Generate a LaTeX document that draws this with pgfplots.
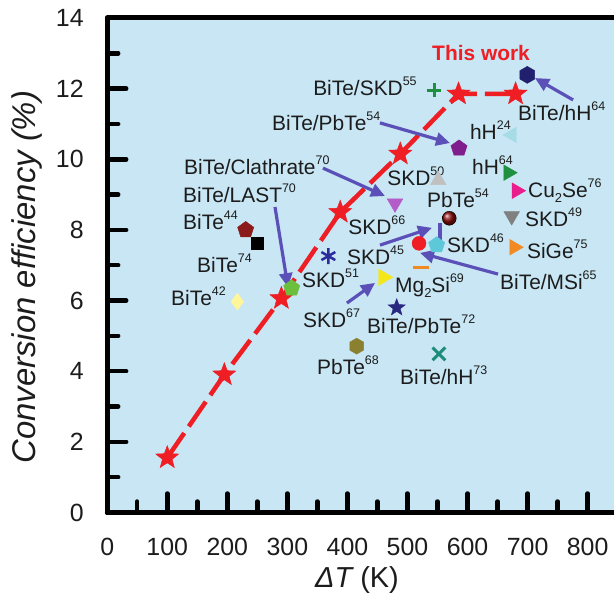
\documentclass[border=0pt]{standalone}
\usepackage{fontspec}
\setmainfont{Liberation Sans}
\usepackage{pgfplots}
\pgfplotsset{compat=1.18}
\usetikzlibrary{arrows.meta}

\definecolor{bgblue}{RGB}{200,230,243}
\definecolor{twred}{RGB}{238,30,36}
\definecolor{arrowc}{RGB}{90,80,184}
\definecolor{navyc}{RGB}{32,32,110}
\definecolor{purpc}{RGB}{128,30,142}
\definecolor{lcyan}{RGB}{166,220,230}
\definecolor{dgreen}{RGB}{30,144,64}
\definecolor{magc}{RGB}{233,30,140}
\definecolor{grayc}{RGB}{128,128,128}
\definecolor{orangec}{RGB}{242,138,36}
\definecolor{lgray}{RGB}{192,192,192}
\definecolor{dred}{RGB}{140,12,12}
\definecolor{orchid}{RGB}{180,92,200}
\definecolor{cyanc}{RGB}{92,200,216}
\definecolor{yellowc}{RGB}{245,230,26}
\definecolor{navystar}{RGB}{40,40,128}
\definecolor{olivec}{RGB}{139,128,48}
\definecolor{tealc}{RGB}{30,140,122}
\definecolor{astc}{RGB}{43,43,154}
\definecolor{limec}{RGB}{108,191,60}
\definecolor{dredpent}{RGB}{139,26,26}
\definecolor{lyellow}{RGB}{255,245,154}
\definecolor{txt}{RGB}{28,28,28}

\pgfdeclareplotmark{fstar}{%
  \pgfpathmoveto{\pgfpointpolar{90}{\pgfplotmarksize}}%
  \pgfpathlineto{\pgfpointpolar{126}{0.42\pgfplotmarksize}}%
  \pgfpathlineto{\pgfpointpolar{162}{\pgfplotmarksize}}%
  \pgfpathlineto{\pgfpointpolar{198}{0.42\pgfplotmarksize}}%
  \pgfpathlineto{\pgfpointpolar{234}{\pgfplotmarksize}}%
  \pgfpathlineto{\pgfpointpolar{270}{0.42\pgfplotmarksize}}%
  \pgfpathlineto{\pgfpointpolar{306}{\pgfplotmarksize}}%
  \pgfpathlineto{\pgfpointpolar{342}{0.42\pgfplotmarksize}}%
  \pgfpathlineto{\pgfpointpolar{18}{\pgfplotmarksize}}%
  \pgfpathlineto{\pgfpointpolar{54}{0.42\pgfplotmarksize}}%
  \pgfpathclose
  \pgfusepathqfillstroke
}
\pgfdeclareplotmark{hexa*}{%
  \pgfpathmoveto{\pgfpointpolar{90}{\pgfplotmarksize}}%
  \pgfpathlineto{\pgfpointpolar{150}{\pgfplotmarksize}}%
  \pgfpathlineto{\pgfpointpolar{210}{\pgfplotmarksize}}%
  \pgfpathlineto{\pgfpointpolar{270}{\pgfplotmarksize}}%
  \pgfpathlineto{\pgfpointpolar{330}{\pgfplotmarksize}}%
  \pgfpathlineto{\pgfpointpolar{30}{\pgfplotmarksize}}%
  \pgfpathclose
  \pgfusepathqfillstroke
}

\newcommand{\su}[1]{\raisebox{10bp}{\fontsize{12.5}{12.5}\selectfont #1}}
\newcommand{\sub}[1]{\raisebox{-4.5bp}{\fontsize{13}{13}\selectfont #1}}

\begin{document}
\begin{tikzpicture}[
  lbl/.style={anchor=base west, inner sep=0pt, yshift=-7.5bp, font=\fontsize{21}{21}\selectfont, text=txt},
  arr/.style={draw=arrowc, line width=3.2bp, -{Triangle[length=14bp,width=13bp]}}
]
\begin{axis}[
  scale only axis, width=510.5bp, height=494.5bp,
  xmin=0, xmax=850, ymin=0, ymax=14,
  xtick={0,100,...,800}, ytick={0,2,...,14},
  minor x tick num=1, minor y tick num=1,
  tick align=inside, xtick pos=left, ytick pos=left,
  major tick length=19bp, minor tick length=11bp,
  tick style={line width=4.5bp, black, line cap=round},
  axis line style={line width=5bp, line join=round},
  axis background/.style={fill=bgblue},
  /pgf/number format/assume math mode=true,
  ticklabel style={font=\fontsize{25}{25}\selectfont, text=txt},
  xticklabel style={yshift=-22bp},
  yticklabel style={xshift=-20bp},
  xlabel={{\itshape ΔT} (K)},
  ylabel={\itshape Conversion efficiency (\%)},
  xlabel style={at={(axis description cs:0.4894,-0.1365)}, anchor=center, font=\fontsize{29}{29}\selectfont, text=txt},
  ylabel style={at={(axis description cs:-0.158,0.476)}, anchor=center, font=\fontsize{33}{33}\selectfont, text=txt},
  clip=false,
]
% This work
\addplot[twred, line width=4.5bp, dash pattern=on 30bp off 8bp, mark=fstar, mark size=12bp,
  mark options={solid, fill=twred, draw=twred, line width=0.5bp}]
  coordinates {(100,1.55) (195,3.9) (290,6.06) (388,8.5) (488,10.15) (585,11.85) (680,11.85)};

% arrows
\draw[arr] (axis cs:775.7,11.68) -- (axis cs:712.3,12.30);
\draw[arr] (axis cs:454.2,11.03) -- (axis cs:570.8,10.46);
\draw[arr] (axis cs:359.3,9.75) -- (axis cs:462.5,8.96);
\draw[arr] (axis cs:279.4,8.65) -- (axis cs:301.0,6.38);
\draw[arr] (axis cs:454.2,7.57) -- (axis cs:540.8,8.06);
\draw[draw=arrowc, line width=3.2bp] (axis cs:554.1,8.20) -- (axis cs:554.1,7.72);
\draw[arr] (axis cs:650.7,6.75) -- (axis cs:520.8,7.35);
\draw[arr] (axis cs:399.2,5.93) -- (axis cs:445.9,6.50);

% literature points
\addplot[only marks, mark=+, mark size=7bp, mark options={line width=3bp, draw=dgreen}] coordinates {(544.6,11.96)};
\addplot[only marks, mark=hexa*, mark size=8.5bp, mark options={fill=navyc, draw=navyc}] coordinates {(699.5,12.39)};
\addplot[only marks, mark=pentagon*, mark size=8.5bp, mark options={fill=purpc, draw=purpc}] coordinates {(585.8,10.31)};
\addplot[only marks, mark=triangle*, mark size=9bp, mark options={rotate=90, fill=lcyan, draw=lcyan}] coordinates {(674,10.69)};
\addplot[only marks, mark=triangle*, mark size=9bp, mark options={rotate=-90, fill=dgreen, draw=dgreen}] coordinates {(667.8,9.62)};
\addplot[only marks, mark=triangle*, mark size=9bp, mark options={rotate=-90, fill=magc, draw=magc}] coordinates {(681.8,9.11)};
\addplot[only marks, mark=triangle*, mark size=9bp, mark options={rotate=180, fill=grayc, draw=grayc}] coordinates {(673.5,8.39)};
\addplot[only marks, mark=triangle*, mark size=9bp, mark options={rotate=-90, fill=orangec, draw=orangec}] coordinates {(677.9,7.51)};
\addplot[only marks, mark=triangle*, mark size=9bp, mark options={fill=lgray, draw=lgray}] coordinates {(551.3,9.41)};
\addplot[only marks, mark=ball, mark size=7bp, mark options={ball color=dred}] coordinates {(569.6,8.33)};
\addplot[only marks, mark=triangle*, mark size=9bp, mark options={rotate=180, fill=orchid, draw=orchid}] coordinates {(479.2,8.75)};
\addplot[only marks, mark=pentagon*, mark size=8.5bp, mark options={fill=cyanc, draw=cyanc}] coordinates {(548.6,7.57)};
\addplot[only marks, mark=*, mark size=7bp, mark options={fill=twred, draw=twred}] coordinates {(519.2,7.62)};
\addplot[only marks, mark=-, mark size=8bp, mark options={line width=3.5bp, draw=orangec}] coordinates {(522,6.94)};
\addplot[only marks, mark=triangle*, mark size=9.5bp, mark options={rotate=-90, fill=yellowc, draw=yellowc}] coordinates {(459.7,6.66)};
\addplot[only marks, mark=fstar, mark size=9bp, mark options={fill=navystar, draw=navystar}] coordinates {(482,5.80)};
\addplot[only marks, mark=hexa*, mark size=8bp, mark options={fill=olivec, draw=olivec}] coordinates {(415.4,4.71)};
\addplot[only marks, mark=x, mark size=9bp, mark options={line width=3bp, draw=tealc}] coordinates {(552.4,4.49)};
\addplot[only marks, mark=asterisk, mark size=8bp, mark options={line width=2.5bp, draw=astc}] coordinates {(368.2,7.26)};
\addplot[only marks, mark=pentagon*, mark size=8.5bp, mark options={fill=limec, draw=limec}] coordinates {(307.2,6.35)};
\addplot[only marks, mark=pentagon*, mark size=8.5bp, mark options={fill=dredpent, draw=dredpent}] coordinates {(230.6,8.0)};
\addplot[only marks, mark=square*, mark size=6bp, mark options={fill=black, draw=black}] coordinates {(250,7.62)};
\addplot[only marks, mark=diamond*, mark size=8.5bp, mark options={fill=lyellow, draw=lyellow}] coordinates {(216.7,5.97)};

% labels
\node[anchor=base, inner sep=0pt, yshift=-7.5bp, font=\fontsize{21}{21}\selectfont\bfseries, text=twred] at (axis cs:622.5,13.01) {This work};
\node[lbl] at (axis cs:342.8,12.02) {BiTe/SKD\su{55}};
\node[lbl] at (axis cs:274.4,11.03) {BiTe/PbTe\su{54}};
\node[lbl] at (axis cs:683.9,11.31) {BiTe/hH\su{64}};
\node[lbl] at (axis cs:603.9,10.77) {hH\su{24}};
\node[lbl] at (axis cs:607.3,9.78) {hH\su{64}};
\node[lbl] at (axis cs:700.6,9.13) {Cu\sub{2}Se\su{76}};
\node[lbl] at (axis cs:695.6,8.31) {SKD\su{49}};
\node[lbl] at (axis cs:698.9,7.40) {SiGe\su{75}};
\node[lbl] at (axis cs:466.2,9.47) {SKD\su{50}};
\node[lbl] at (axis cs:532.5,8.85) {PbTe\su{54}};
\node[lbl] at (axis cs:401.2,8.08) {SKD\su{66}};
\node[lbl] at (axis cs:565.5,7.57) {SKD\su{46}};
\node[lbl] at (axis cs:399.3,7.23) {SKD\su{45}};
\node[lbl] at (axis cs:654.0,6.53) {BiTe/MSi\su{65}};
\node[lbl] at (axis cs:479.2,6.44) {Mg\sub{2}Si\su{69}};
\node[lbl] at (axis cs:326.0,5.45) {SKD\su{67}};
\node[lbl] at (axis cs:432.5,5.28) {BiTe/PbTe\su{72}};
\node[lbl] at (axis cs:349.4,4.12) {PbTe\su{68}};
\node[lbl] at (axis cs:487.5,3.84) {BiTe/hH\su{73}};
\node[lbl] at (axis cs:324.3,6.58) {SKD\su{51}};
\node[lbl] at (axis cs:127.9,9.78) {BiTe/Clathrate\su{70}};
\node[lbl] at (axis cs:126.2,8.99) {BiTe/LAST\su{70}};
\node[lbl] at (axis cs:126.2,8.22) {BiTe\su{44}};
\node[lbl] at (axis cs:149.5,7.01) {BiTe\su{74}};
\node[lbl] at (axis cs:106.2,6.07) {BiTe\su{42}};
\end{axis}
\pgfresetboundingbox
\path[use as bounding box] (-107.2bp,-89.5bp) rectangle (506.8bp,512.5bp);
\end{tikzpicture}
\end{document}
